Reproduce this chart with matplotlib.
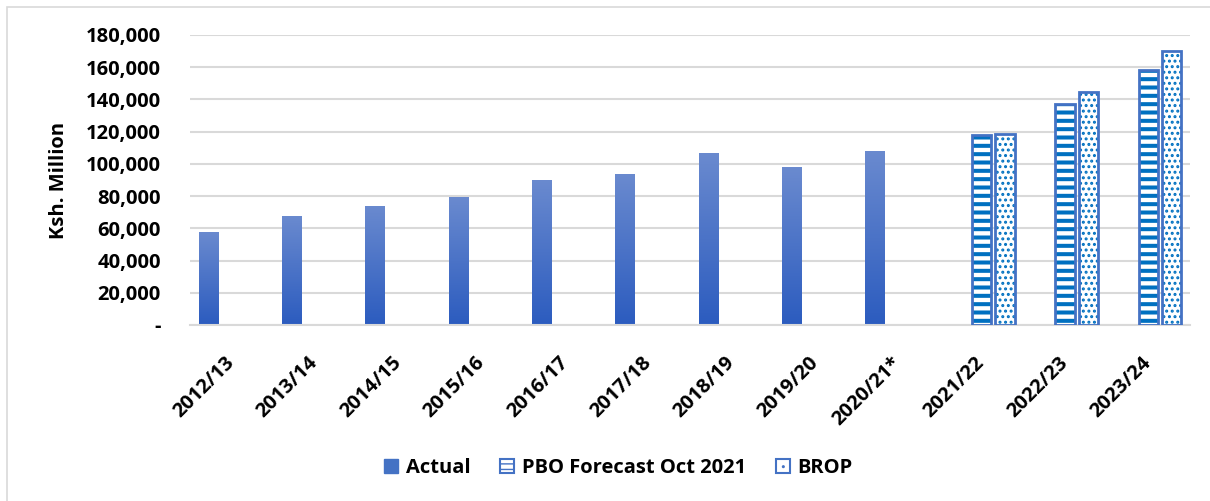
import numpy as np
import matplotlib.pyplot as plt
from matplotlib.colors import LinearSegmentedColormap
from matplotlib.patches import Rectangle

plt.rcParams['font.family'] = ['Open Sans', 'DejaVu Sans']
plt.rcParams['font.weight'] = 'bold'
plt.rcParams['axes.labelweight'] = 'bold'

# data
years = ['2012/13', '2013/14', '2014/15', '2015/16', '2016/17', '2017/18',
         '2018/19', '2019/20', '2020/21*', '2021/22', '2022/23', '2023/24']
actual = [58000, 67800, 74000, 79500, 90000, 93700, 106800, 98000, 108000]
pbo = [118000, 137000, 158000]
brop = [118700, 144700, 170000]

x = np.arange(len(years))
w = 0.235
off = 0.28
fs = 14.5

fig = plt.figure(figsize=(12.10, 5.01), dpi=100)
ax = fig.add_axes([0.157, 0.3513, 0.8265, 0.579])

# light border round the chart
fig.patches.append(Rectangle((7 / 1210, -0.1), 1.2, 1.1 - 7 / 501, transform=fig.transFigure,
                             fill=False, edgecolor='#D9D9D9', linewidth=1.2))

# actual bars with a vertical gradient
grad = LinearSegmentedColormap.from_list('g', ['#2C5CBF', '#6A8ACF'])
bars = ax.bar(x[:9] - off, actual, w, color='#4472C4', linewidth=0, zorder=2)
for b in bars:
    x0, h = b.get_x(), b.get_height()
    im = ax.imshow(np.linspace(0, 1, 100).reshape(-1, 1), cmap=grad, origin='lower',
                   extent=[x0, x0 + w, 0, h], aspect='auto', zorder=2.5)
    im.set_clip_path(b)

xf = x[9:]
pb = ax.bar(xf, pbo, w, color='white', edgecolor='#0070C0', hatch='--', linewidth=0, zorder=2)
bp = ax.bar(xf + off, brop, w, color='white', edgecolor='#0070C0', hatch='...', linewidth=0, zorder=2)
for b in pb:
    b.set_hatch_linewidth(2.9)
for b in bp:
    b.set_hatch_linewidth(1.4)
ax.bar(xf, pbo, w, fill=False, edgecolor='#4472C4', linewidth=2, zorder=3)
ax.bar(xf + off, brop, w, fill=False, edgecolor='#4472C4', linewidth=2, zorder=3)

ax.set_xlim(-0.5, 11.5)
ax.set_ylim(0, 180000)
ax.set_yticks(range(0, 180001, 20000))
ax.set_yticklabels(['-'] + [f'{v:,}' for v in range(20000, 180001, 20000)],
                   fontsize=fs, fontweight='bold')
ax.yaxis.grid(True, color='#D9D9D9', linewidth=1.5, zorder=0)
ax.set_axisbelow(True)
for s in ['top', 'right', 'left']:
    ax.spines[s].set_visible(False)
ax.spines['bottom'].set_color('#D9D9D9')
ax.spines['bottom'].set_linewidth(1.5)
ax.tick_params(axis='y', length=0, pad=21)

ax.set_xticks(x)
ax.set_xticklabels(years, rotation=45, ha='right', va='center', rotation_mode='anchor',
                   fontsize=fs, fontweight='bold')
ax.tick_params(axis='x', length=0, pad=25)
ax.set_ylabel('Ksh. Million', fontsize=fs, fontweight='bold', labelpad=12)

# legend
h1 = Rectangle((0, 0), 1, 1, facecolor='#4472C4', edgecolor='#4472C4')
h2 = Rectangle((0, 0), 1, 1, facecolor='white', edgecolor='#4472C4', hatch='---', linewidth=1.5)
h3 = Rectangle((0, 0), 1, 1, facecolor='white', edgecolor='#4472C4', hatch='..', linewidth=1.5)
fig.legend([h1, h2, h3], ['Actual', 'PBO Forecast Oct 2021', 'BROP'], loc='center',
           bbox_to_anchor=(0.511, 0.066), ncol=3, frameon=False,
           prop={'size': fs, 'weight': 'bold'},
           handlelength=0.7, handleheight=0.7, handletextpad=0.35, columnspacing=1.5)

plt.savefig('out.png', dpi=100)
